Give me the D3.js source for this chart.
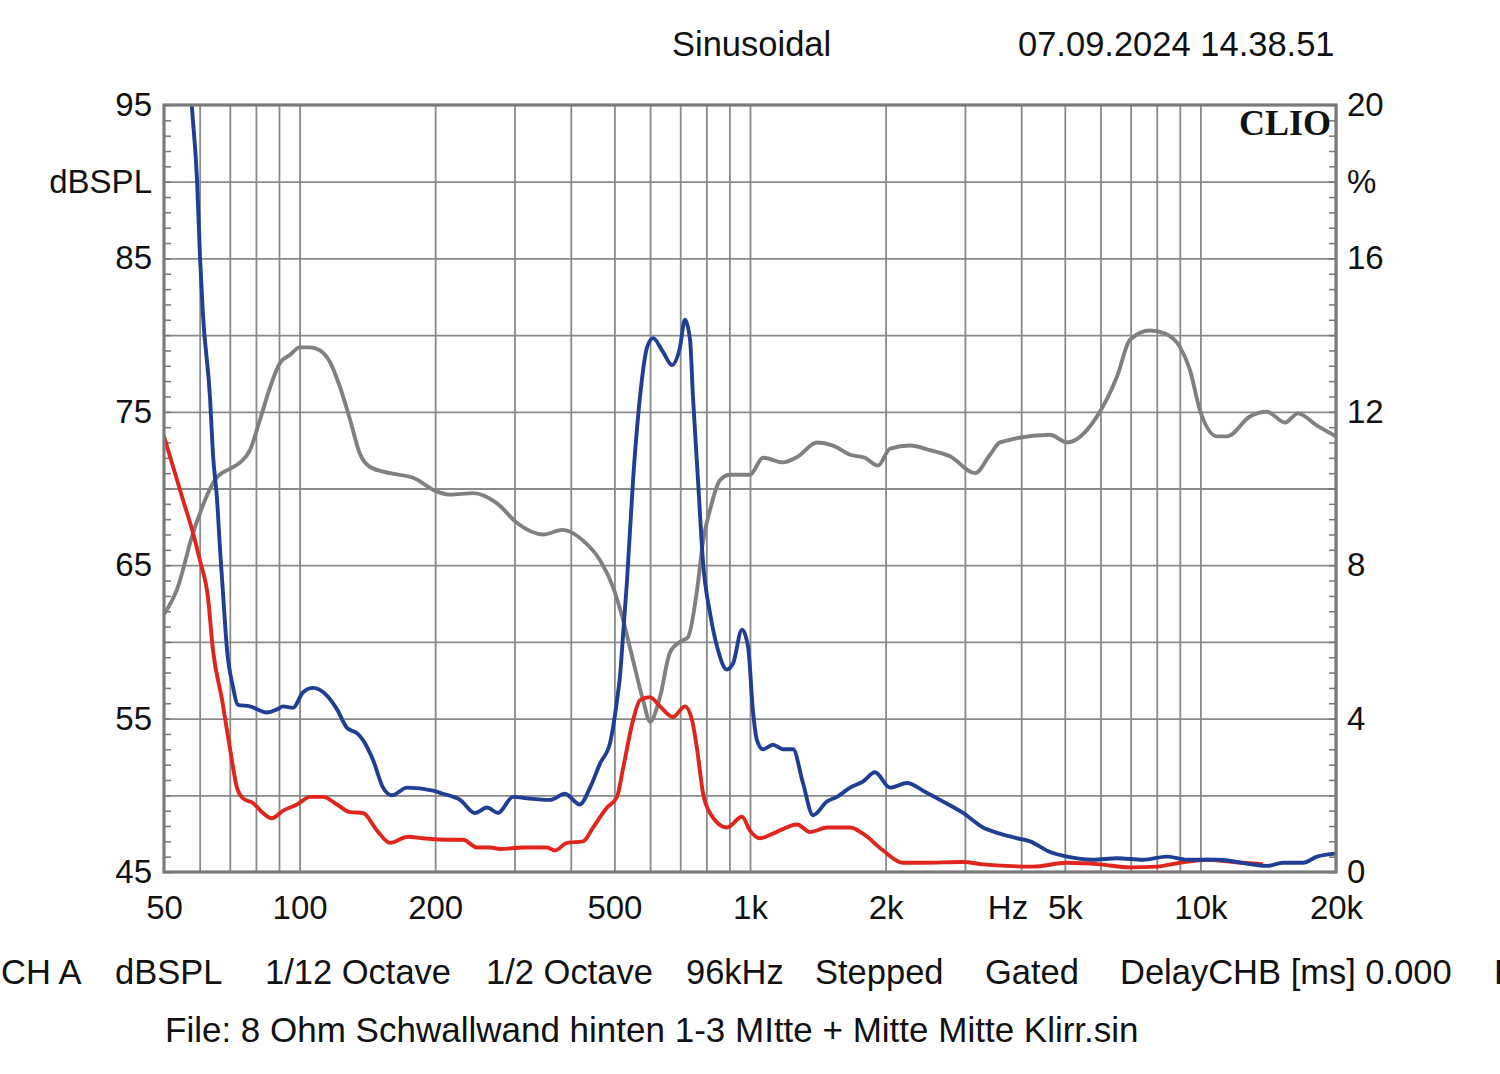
<!DOCTYPE html>
<html><head><meta charset="utf-8">
<script src="https://cdn.jsdelivr.net/npm/d3@7"></script>
<style>
body{margin:0;background:#fff}
text{font-family:"Liberation Sans",Arial,sans-serif;fill:#111}
</style>
</head><body>
<svg id="c" width="1500" height="1074"></svg>
<script>
// ---- data ----
const grayFreq = [50,52.1,53.4,58.0,65.6,70.1,73.8,77.6,81.7,86.0,90.5,95.2,100,105.5,111,117,123,129.4,136,143.4,158.8,178.6,202,216,243,274,304,347,384,426,465,496,523,550,579,600,631,664,699,728,763,787,815,858,903,1000,1069,1184,1272,1409,1529,1668,1800,1924,2046,2267,2510,2780,3160,3411,3590,4636,5056,5895,6530,6978,7727,8348,9017,9484,9976,10890,11460,12880,14060,15410,16470,18150,20000];
const grayDb = [61.8,62.7,63.4,67.1,70.75,71.3,71.7,72.5,74.5,76.6,78.2,78.7,79.2,79.2,79.0,78.2,76.6,74.5,72.3,71.4,71.0,70.7,69.8,69.6,69.7,69.05,67.75,67.0,67.3,66.6,65.3,63.6,61.4,58.8,56.2,54.8,56.4,59.3,60.0,60.3,63.4,66.6,68.6,70.55,70.9,70.9,72.0,71.7,72.05,73.0,72.8,72.2,72.0,71.5,72.6,72.8,72.5,72.1,71.0,72.2,73.0,73.5,73.0,74.7,77.3,79.7,80.3,80.1,79.2,77.7,75.1,73.4,73.4,74.7,75.0,74.3,74.9,74.1,73.4];

const blueFreq = [57.2,57.7,59.2,60.1,61.0,63.3,64.2,65.6,66.6,67.6,69.0,71.1,73.0,77.6,84.6,89.1,91.9,96.7,101.7,107.1,115.0,121.1,127.4,134.1,138.3,145.6,153.2,160.4,173.2,197.8,208.1,227.1,245.2,260.7,275.8,297.8,319.9,359.7,388.4,419,441.4,465,488.8,506.7,515,523,533.3,550,570,590.8,609,641,671,699,717,736,747,766.6,787,815,845,889,917,960,990,1016,1036,1069,1124,1184,1246,1311,1380,1483,1560,1668,1782,1895,2046,2232,2422,2642,2972,3291,3590,3916,4185,4636,5056,5775,6530,7459,8432,9337,10890,14060,15257,16900,18150,20000];
const blueDb = [96.5,94.8,90.1,85.1,81.4,75.8,72.3,69.25,66.0,63.2,59.5,57.1,55.9,55.8,55.4,55.6,55.8,55.7,56.7,57.0,56.5,55.6,54.4,54.05,53.6,52.3,50.5,50.0,50.5,50.3,50.1,49.7,48.85,49.2,48.85,49.9,49.8,49.7,50.1,49.4,50.5,52.1,53.4,56.2,57.9,60.6,64.0,70.55,76.0,79.2,79.8,78.9,78.05,79.2,81.0,79.7,76.0,70.55,65.1,61.9,59.7,58.2,58.6,60.8,59.7,55.4,53.6,53.0,53.3,53.0,53.0,50.8,48.7,49.6,49.9,50.5,50.9,51.5,50.5,50.8,50.3,49.7,48.85,47.9,47.5,47.2,47.0,46.3,46.0,45.8,45.9,45.8,46.0,45.8,45.8,45.4,45.6,45.6,46.0,46.2];

const redFreq = [50,52.4,55.1,58.0,60.1,62.6,64.2,67.3,70.1,72.6,74.9,78.8,82.9,86.8,91.9,98.7,105.5,112.7,121.1,129.4,138.3,148.6,158.8,174.1,187.9,216,230.6,247.7,264.8,279,313.4,354.3,369,392.4,426,448.2,481.5,506.7,523,550,570,600,631,674.7,717,743.6,763,787,815,889,960,1000,1052,1124,1272,1360,1483,1668,1782,1975,2187,2422,2972,3291,4250,5056,5986,6978,8012,9017,10343,11816,13774];
const redDb = [73.4,71.4,69.25,67.1,65.3,62.9,59.5,56.2,53.0,50.5,49.8,49.5,48.85,48.5,49.0,49.4,49.9,49.9,49.4,48.9,48.85,47.7,46.9,47.3,47.2,47.1,47.1,46.6,46.6,46.5,46.6,46.6,46.4,46.9,47.0,47.9,49.2,49.9,51.8,54.9,56.2,56.4,55.8,55.1,55.8,54.9,53.0,50.1,48.85,47.9,48.6,47.7,47.2,47.5,48.1,47.6,47.9,47.9,47.5,46.4,45.6,45.6,45.65,45.5,45.35,45.6,45.5,45.3,45.35,45.6,45.8,45.65,45.5];

const xTickValues = [50,100,200,500,1000,2000,5000,10000,20000];
const xTickLabels = ["50","100","200","500","1k","2k","5k","10k","20k"];
const xGridValues = [60,70,80,90,100,200,300,400,500,600,700,800,900,1000,2000,3000,4000,5000,6000,7000,8000,9000,10000,20000];
const leftTickValues = [95,85,75,65,55,45];
const rightTickValues = [20,16,12,8,4,0];
const bottomInfo = [["CH A",1],["dBSPL",115],["1/12 Octave",265],["1/2 Octave",486],["96kHz",686],["Stepped",815],["Gated",985],["DelayCHB [ms] 0.000",1120],["FFT",1494]];

// ---- layout ----
const svg = d3.select("#c");
const L=164, R=1336, T=105, B=872;
const x = d3.scaleLog().domain([50,20000]).range([L,R]);
const y = d3.scaleLinear().domain([45,95]).range([B,T]);
const yR = d3.scaleLinear().domain([0,20]).range([B,T]);
const gridCol="#8a8a8a";
const FS=34.5;

// grid
svg.append("g").attr("transform",`translate(0,${B})`)
  .call(d3.axisBottom(x).tickValues(xGridValues).tickSize(-(B-T)).tickFormat(""))
  .call(g=>g.select(".domain").remove())
  .call(g=>g.selectAll("line").attr("stroke",gridCol).attr("stroke-width",1.8));
svg.append("g").attr("transform",`translate(${L},0)`)
  .call(d3.axisLeft(y).tickValues(d3.range(50,95,5)).tickSize(-(R-L)).tickFormat(""))
  .call(g=>g.select(".domain").remove())
  .call(g=>g.selectAll("line").attr("stroke",gridCol).attr("stroke-width",1.8));

// minor ticks
svg.append("g").attr("transform",`translate(${L},0)`)
  .call(d3.axisLeft(y).tickValues(d3.range(45,96,1)).tickSize(-7).tickFormat(""))
  .call(g=>g.select(".domain").remove())
  .call(g=>g.selectAll("line").attr("stroke","#777").attr("stroke-width",1.5));
svg.append("g").attr("transform",`translate(${R},0)`)
  .call(d3.axisRight(y).tickValues(d3.range(45,96,1)).tickSize(-7).tickFormat(""))
  .call(g=>g.select(".domain").remove())
  .call(g=>g.selectAll("line").attr("stroke","#777").attr("stroke-width",1.5));

// curves
svg.append("clipPath").attr("id","clip").append("rect").attr("x",L).attr("y",T).attr("width",R-L).attr("height",B-T);
const line = d3.line().x(d=>x(d[0])).y(d=>y(d[1])).curve(d3.curveMonotoneX);
const cg = svg.append("g").attr("clip-path","url(#clip)");
function draw(fs,vs,col){
  cg.append("path").datum(fs.map((f,i)=>[f,vs[i]]))
    .attr("d",line).attr("fill","none").attr("stroke",col).attr("stroke-width",3.9)
    .attr("stroke-linejoin","round");
}
draw(grayFreq,grayDb,"#808080");
draw(redFreq,redDb,"#e1251d");
draw(blueFreq,blueDb,"#1f3f95");

// frame
svg.append("rect").attr("x",L).attr("y",T).attr("width",R-L).attr("height",B-T)
  .attr("fill","none").attr("stroke","#7a7a7a").attr("stroke-width",3.2);

// left labels
svg.append("g").attr("transform",`translate(${L-12},0)`)
  .call(d3.axisLeft(y).tickValues(leftTickValues).tickSize(0).tickPadding(0))
  .call(g=>g.select(".domain").remove())
  .call(g=>g.selectAll("text").attr("font-size",33).attr("font-family","Liberation Sans, Arial").attr("fill","#111"));
svg.append("text").attr("x",L-12).attr("y",y(90)).attr("dy","0.35em").attr("text-anchor","end").attr("font-size",33).text("dBSPL");
// right labels
svg.append("g").attr("transform",`translate(${R+11},0)`)
  .call(d3.axisRight(yR).tickValues(rightTickValues).tickSize(0).tickPadding(0))
  .call(g=>g.select(".domain").remove())
  .call(g=>g.selectAll("text").attr("font-size",33).attr("font-family","Liberation Sans, Arial").attr("fill","#111"));
svg.append("text").attr("x",R+11).attr("y",yR(18)).attr("dy","0.35em").attr("font-size",33).text("%");

// bottom labels
svg.append("g").attr("transform",`translate(0,${B+24})`)
  .call(d3.axisBottom(x).tickValues(xTickValues).tickSize(0).tickPadding(0).tickFormat((d,i)=>xTickLabels[i]))
  .call(g=>g.select(".domain").remove())
  .call(g=>g.selectAll("text").attr("font-size",33).attr("font-family","Liberation Sans, Arial").attr("fill","#111"));
svg.append("text").attr("x",1008).attr("y",B+24).attr("dy","0.71em").attr("text-anchor","middle").attr("font-size",33).text("Hz");

// titles
svg.append("text").attr("x",672).attr("y",56).attr("font-size",FS).text("Sinusoidal");
svg.append("text").attr("x",1018).attr("y",56).attr("font-size",FS).text("07.09.2024 14.38.51");
svg.append("text").attr("x",1331).attr("y",135).attr("text-anchor","end")
  .attr("font-weight","bold").attr("font-size",36).style("font-family","Liberation Serif, Times New Roman, serif").text("CLIO");

bottomInfo.forEach(([t,px])=>{
  svg.append("text").attr("x",px).attr("y",984).attr("font-size",FS).text(t);
});
svg.append("text").attr("x",165).attr("y",1042).attr("font-size",FS+0.5).text("File: 8 Ohm Schwallwand hinten 1-3 MItte + Mitte Mitte Klirr.sin");
</script>
</body></html>
